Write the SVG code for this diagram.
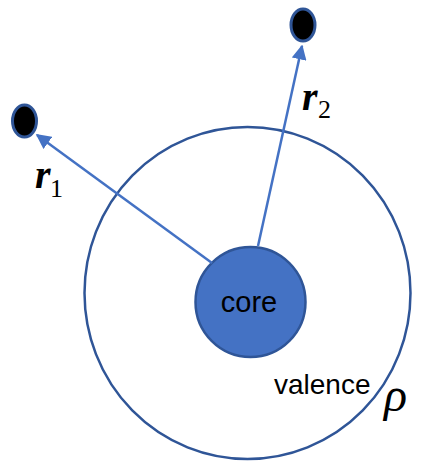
<svg xmlns="http://www.w3.org/2000/svg" width="423" height="469" viewBox="0 0 423 469">
<style>
.ring{fill:none;stroke:#2F5597;stroke-width:2.5}
.core{fill:#4472C4;stroke:#2F5597;stroke-width:2.5}
.dot{fill:#000;stroke:#2F5597;stroke-width:3}
.arr{stroke:#4472C4;stroke-width:2.5;fill:none;marker-end:url(#ah)}
.lbl{font-family:"Liberation Sans",Arial,sans-serif;fill:#000}
.math{font-family:"Liberation Serif","Times New Roman",serif;font-style:italic;fill:#000}
.sub{font-family:"Liberation Serif","Times New Roman",serif;fill:#000}
</style>
<defs>
<marker id="ah" viewBox="0 0 10 10" refX="9" refY="5" markerWidth="6" markerHeight="6" orient="auto" markerUnits="strokeWidth">
<path d="M0,0 L10,5 L0,10 z" fill="#4472C4"/>
</marker>
</defs>
<g id="valence">
<ellipse class="ring" cx="247.5" cy="293" rx="163" ry="166"/>
<text class="lbl" x="274" y="394" font-size="28">valence</text>
<text class="math" x="384" y="411" font-size="48">ρ</text>
</g>
<g id="core">
<circle class="core" cx="250.5" cy="302" r="55"/>
<text class="lbl" x="249" y="312" font-size="29" text-anchor="middle">core</text>
</g>
<g id="e1">
<ellipse class="dot" cx="24.5" cy="121" rx="12" ry="16"/>
</g>
<g id="e2">
<ellipse class="dot" cx="303" cy="25" rx="12" ry="16"/>
</g>
<g id="connectors">
<line class="arr" x1="212" y1="263" x2="37" y2="135"/>
<line class="arr" x1="258" y1="246" x2="302" y2="46"/>
</g>
<g id="labels">
<text class="math" x="35" y="188" font-size="40" font-weight="bold">r</text>
<text class="sub" x="50" y="197" font-size="26">1</text>
<text class="math" x="302" y="110" font-size="40" font-weight="bold">r</text>
<text class="sub" x="318" y="118" font-size="26">2</text>
</g>
</svg>
